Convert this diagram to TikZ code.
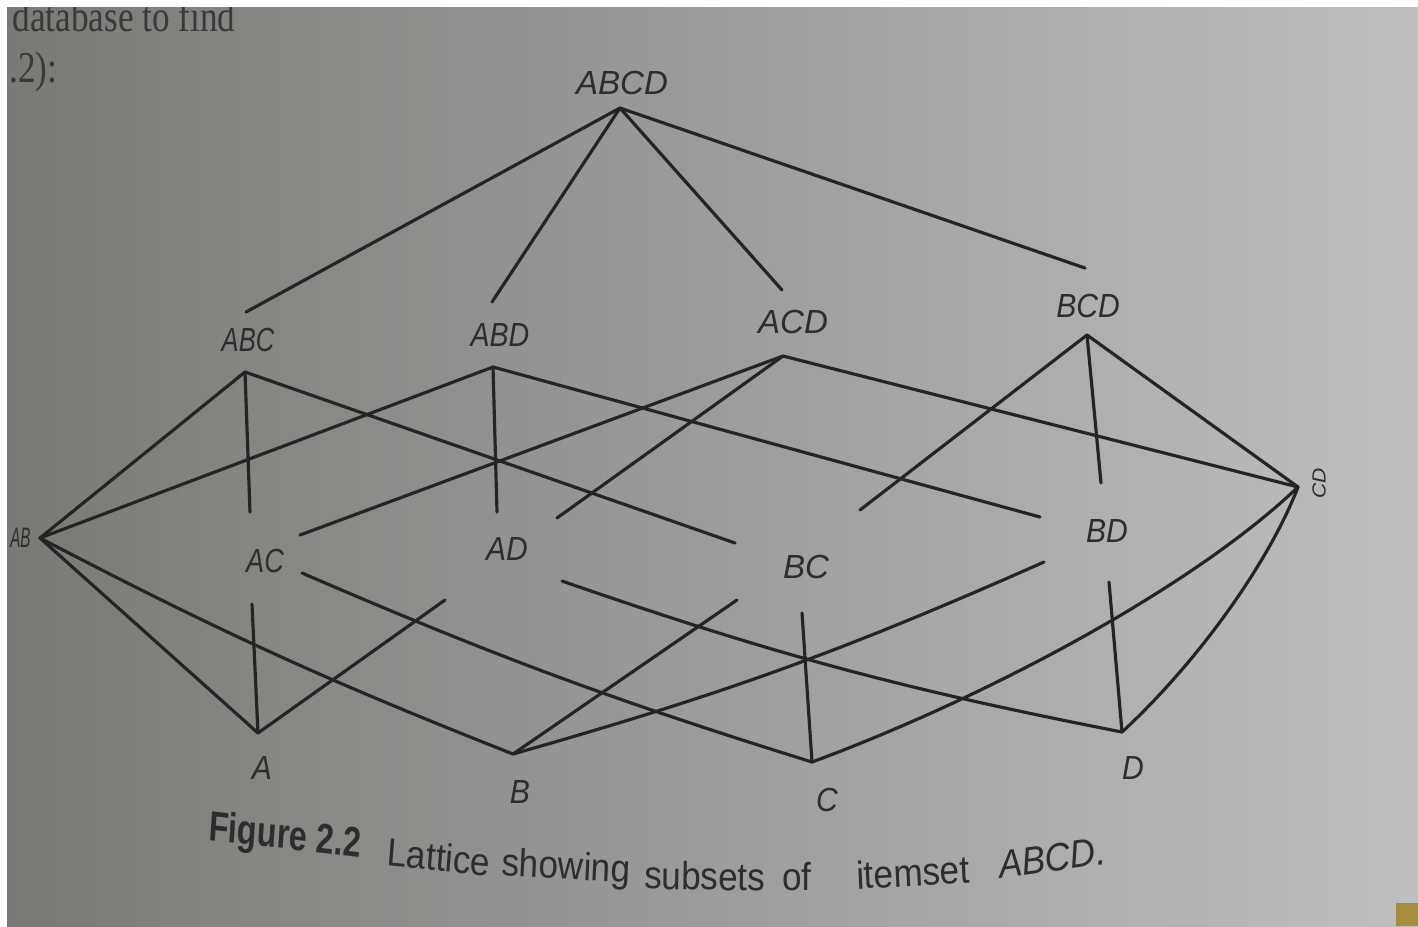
\documentclass[tikz,border=0pt]{standalone}
\usepackage{fontspec}
\setmainfont{Liberation Sans}
\newfontfamily\bookserif{Liberation Serif}
\definecolor{bgL}{RGB}{120,122,118}
\definecolor{bgM}{RGB}{164,166,163}
\definecolor{bgR}{RGB}{190,192,191}
\definecolor{ink}{RGB}{36,36,36}
\definecolor{txt}{RGB}{45,45,45}
\definecolor{patch}{RGB}{168,140,62}
\tikzset{
  edge/.style={draw=ink, line width=0.9pt, line cap=round},
  lab/.style={font=\fontsize{9.5}{11}\selectfont\itshape, text=txt, inner sep=0pt, xscale=0.9},
  capword/.style={font=\fontsize{11.1}{13}\selectfont, text=txt, inner sep=0pt, xscale=0.9},
  booktext/.style={font=\bookserif\fontsize{12.5}{14}\selectfont, text=txt!90!bgM, inner sep=0pt, xscale=0.8}
}
\begin{document}
\begin{tikzpicture}[x=0.01cm, y=-0.01cm]
\useasboundingbox (0,0) rectangle (1418,926);
\fill[white] (0,0) rectangle (1418,926);
\shade[left color=bgL, middle color=bgM, right color=bgR] (7,7) rectangle (1418,926);
\fill[patch] (1396,903) rectangle (1418,926);

% book text fragments
\node[booktext, anchor=base west] (t1) at (12,31) {database to find};
\node[booktext, anchor=base west] (t2) at (9,82) {.2):};

% labels
\node[lab, xscale=1.1] (lABCD) at (622,83) {ABCD};
\node[lab, xscale=0.85] (lABC) at (248,340) {ABC};
\node[lab, xscale=0.95] (lABD) at (500,335) {ABD};
\node[lab, xscale=1.1] (lACD) at (793,322) {ACD};
\node[lab, xscale=1.0] (lBCD) at (1088,306) {BCD};
\node[lab, anchor=east, font=\fontsize{8}{9}\selectfont\itshape, xscale=0.6] (lAB) at (31,538) {AB};
\node[lab, rotate=90, font=\fontsize{6}{7}\selectfont\itshape] (lCD) at (1319,483) {CD};
\node[lab, xscale=0.9] (lAC) at (265,561) {AC};
\node[lab, xscale=1.0] (lAD) at (507,549) {AD};
\node[lab, xscale=1.1] (lBC) at (806,567) {BC};
\node[lab, xscale=1.0] (lBD) at (1107,531) {BD};
\node[lab] (lA) at (262,768) {A};
\node[lab] (lB) at (520,792) {B};
\node[lab] (lC) at (827,800) {C};
\node[lab] (lD) at (1133,768) {D};

% points
\coordinate (p0) at (620,108);
\coordinate (t1e) at (246,312);
\coordinate (t2e) at (492,302);
\coordinate (t3e) at (782,290);
\coordinate (t4e) at (1085,268);
\coordinate (pABC) at (245,372);
\coordinate (pABD) at (493,367);
\coordinate (pACD) at (783,356);
\coordinate (pBCD) at (1087,335);
\coordinate (pAB) at (40,538);
\coordinate (pCD) at (1298,487);
\coordinate (eABCAC) at (250,512);
\coordinate (eACDAC) at (300,535);
\coordinate (eABDAD) at (497,512);
\coordinate (eACDAD) at (557,518);
\coordinate (eABCBC) at (735,543);
\coordinate (eBCDBC) at (860,510);
\coordinate (eABDBD) at (1040,517);
\coordinate (eBCDBD) at (1101,483);
\coordinate (fACA) at (252,604);
\coordinate (fACC) at (302,573);
\coordinate (fADA) at (445,600);
\coordinate (fADD) at (562,581);
\coordinate (fBCB) at (737,600);
\coordinate (fBCC) at (802,613);
\coordinate (fBDB) at (1044,562);
\coordinate (fBDD) at (1109,582);
\coordinate (pA) at (258,733);
\coordinate (pB) at (513,754);
\coordinate (pC) at (812,762);
\coordinate (pD) at (1122,732);

% top level
\draw[edge] (p0) -- (t1e);
\draw[edge] (p0) -- (t2e);
\draw[edge] (p0) -- (t3e);
\draw[edge] (p0) -- (t4e);
% 3-sets
\draw[edge] (pABC) -- (pAB);
\draw[edge] (pABC) -- (eABCAC);
\draw[edge] (pABC) -- (eABCBC);
\draw[edge] (pABD) -- (pAB);
\draw[edge] (pABD) -- (eABDAD);
\draw[edge] (pABD) -- (eABDBD);
\draw[edge] (pACD) -- (eACDAC);
\draw[edge] (pACD) -- (eACDAD);
\draw[edge] (pACD) -- (pCD);
\draw[edge] (pBCD) -- (eBCDBC);
\draw[edge] (pBCD) -- (eBCDBD);
\draw[edge] (pBCD) -- (pCD);
% 2-sets
\draw[edge] (pAB) -- (pA);
\draw[edge] (pAB) to[bend right=3] (pB);
\draw[edge] (fACA) -- (pA);
\draw[edge] (fACC) to[bend right=3] (pC);
\draw[edge] (fADA) -- (pA);
\draw[edge] (fADD) to[bend right=4] (pD);
\draw[edge] (fBCB) -- (pB);
\draw[edge] (fBCC) -- (pC);
\draw[edge] (pB) to[bend right=4] (fBDB);
\draw[edge] (fBDD) -- (pD);
\draw[edge] (pC) .. controls (980,700) and (1190,590) .. (pCD);
\draw[edge] (pD) .. controls (1200,660) and (1270,560) .. (pCD);

% caption
\node[capword, font=\fontsize{12}{14}\selectfont\bfseries, xscale=0.85, rotate=-5] (cfig) at (285,838) {Figure 2.2};
\node[capword, rotate=-5] (c1) at (439,857) {Lattice};
\node[capword, rotate=-3] (c2) at (566,869) {showing};
\node[capword, rotate=-1] (c3) at (705,876) {subsets};
\node[capword] (c4) at (797,877) {of};
\node[capword, rotate=3] (c5) at (913,872) {itemset};
\node[capword, font=\fontsize{11.1}{13}\selectfont\itshape, rotate=7] (c6) at (1052,858) {ABCD.};

% photo border
\fill[white] (0,0) rectangle (1418,7);
\fill[white] (0,0) rectangle (7,926);
\end{tikzpicture}
\end{document}
